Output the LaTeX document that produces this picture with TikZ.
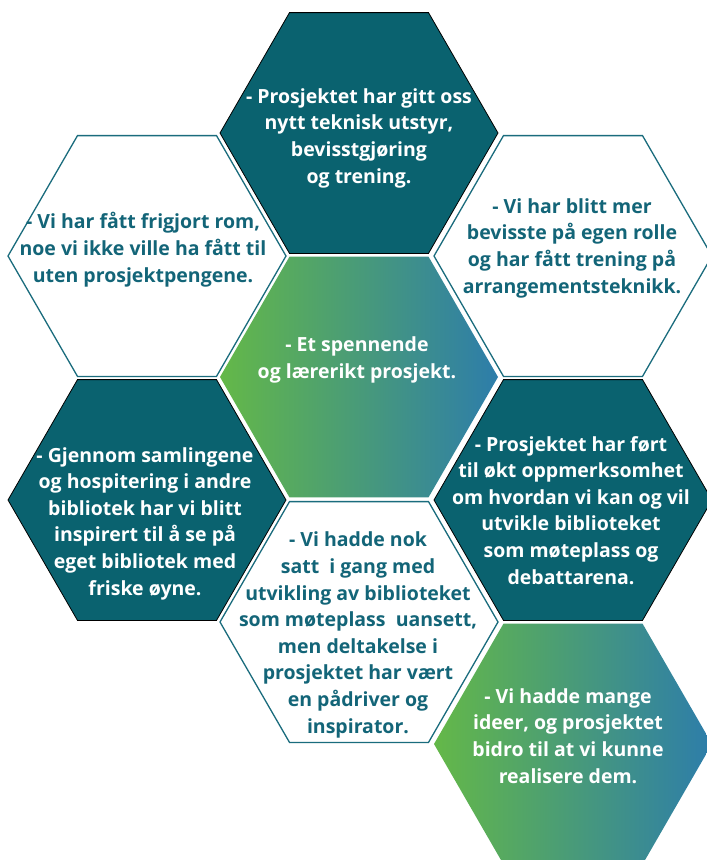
\documentclass[tikz,border=0pt]{standalone}
\usepackage{fontspec}
\setmainfont{Open Sans}
\definecolor{darkteal}{RGB}{10,98,111}
\definecolor{tealtext}{RGB}{19,101,120}
\definecolor{tealline}{RGB}{26,108,125}
\definecolor{hgreen}{RGB}{100,184,72}
\definecolor{hblue}{RGB}{45,125,170}
\tikzset{
 darkhex/.style={fill=darkteal, draw=black, line width=0.8pt},
 whitehex/.style={fill=white, draw=tealline, line width=1.3pt},
 gradhex/.style={left color=hgreen, right color=hblue},
 txt/.style={align=center, font=\bfseries\fontsize{19.5}{26.6}\selectfont, anchor=base, inner sep=0pt},
 wtxt/.style={txt, text=white},
 ttxt/.style={txt, text=tealtext},
}
\newcommand\hexagonat[3]{\path[#1] (#2,#3) ++(139,0) -- ++(-69.5,120.4) -- ++(-139,0) -- ++(-69.5,-120.4) -- ++(69.5,-120.4) -- ++(139,0) -- cycle;}
\begin{document}
\begin{tikzpicture}[x=1pt,y=-1pt]
\useasboundingbox[fill=white] (0,0) rectangle (707,860);
\hexagonat{darkhex}{359}{133}
\hexagonat{whitehex}{147}{256}
\hexagonat{whitehex}{573}{256}
\hexagonat{gradhex}{359}{377}
\hexagonat{darkhex}{147}{500}
\hexagonat{darkhex}{573}{500}
\hexagonat{whitehex}{359}{622}
\hexagonat{gradhex}{573}{744}

\node[wtxt] (t1) at (359,183) {- Prosjektet har gitt oss\\nytt teknisk utstyr,\\bevisstgjøring\\og trening.};
\node[ttxt] (t2) at (143,282) {- Vi har fått frigjort rom,\\noe vi ikke ville ha fått til\\uten prosjektpengene.};
\node[ttxt] (t3) at (572,293) {- Vi har blitt mer\\bevisste på egen rolle\\og har fått trening på\\arrangementsteknikk.};
\node[wtxt] (t4) at (357,378) {- Et spennende\\og lærerikt prosjekt.};
\node[wtxt] (t5) at (145,595) {- Gjennom samlingene\\og hospitering i andre\\bibliotek har vi blitt\\inspirert til å se på\\eget bibliotek med\\friske øyne.};
\node[wtxt] (t6) at (571,584) {- Prosjektet har ført\\til økt oppmerksomhet\\om hvordan vi kan og vil\\utvikle biblioteket\\som møteplass og\\debattarena.};
\node[ttxt] (t7) at (358,733) {- Vi hadde nok\\satt~ i gang med\\utvikling av biblioteket\\som møteplass~ uansett,\\men deltakelse i\\prosjektet har vært\\en pådriver og\\inspirator.};
\node[wtxt] (t8) at (568,783) {- Vi hadde mange\\ideer, og prosjektet\\bidro til at vi kunne\\realisere dem.};
\end{tikzpicture}
\end{document}
